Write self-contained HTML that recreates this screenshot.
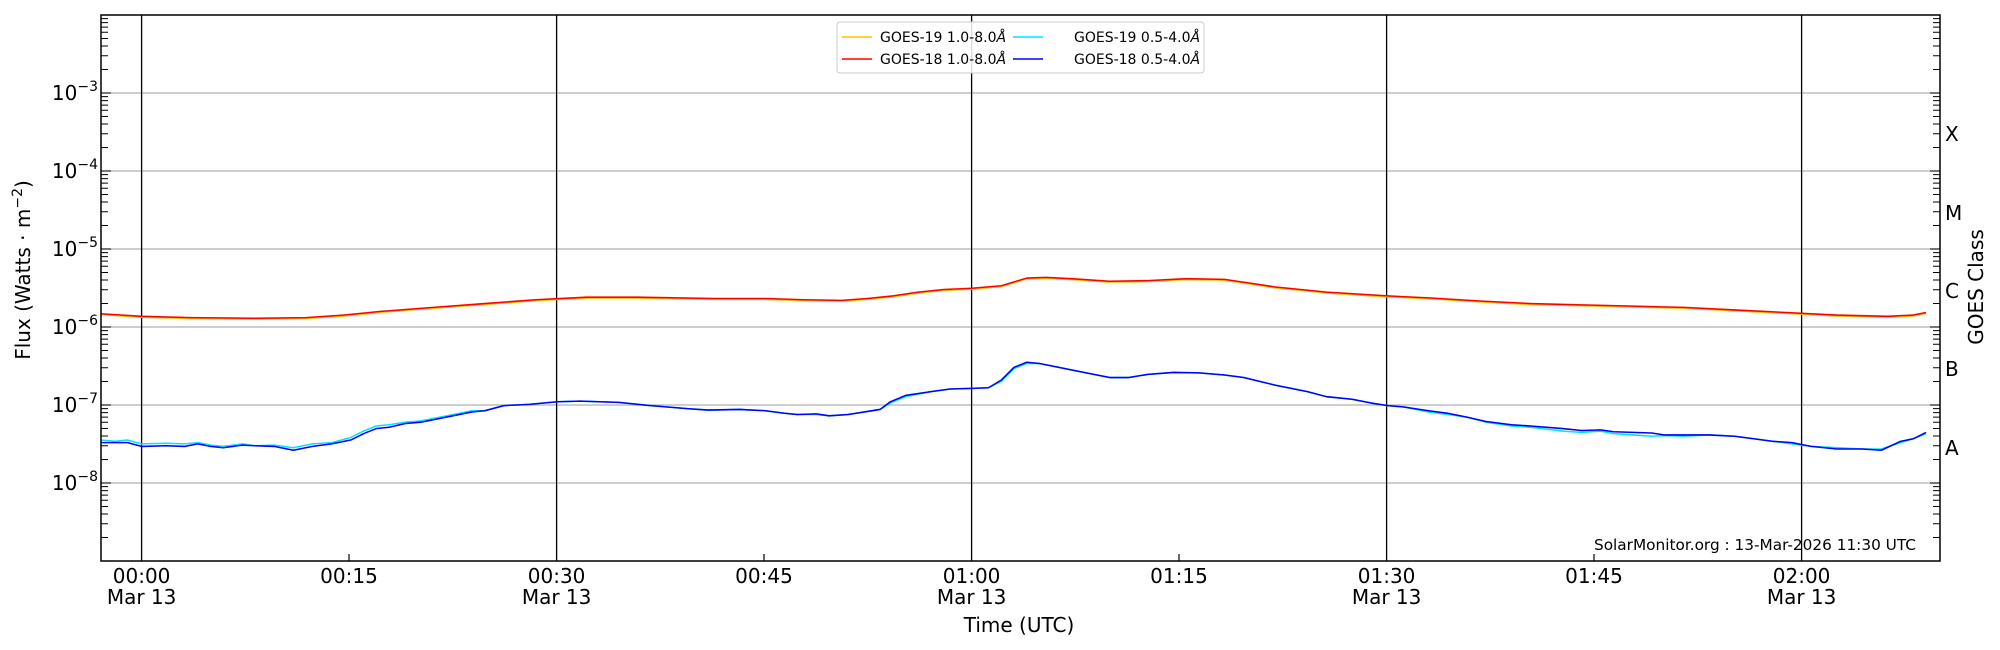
<!DOCTYPE html>
<html><head><meta charset="utf-8"><style>
html,body{margin:0;padding:0;background:#fff;}
svg{display:block;font-family:"DejaVu Sans","Liberation Sans",sans-serif;}
</style></head><body>
<svg width="2000" height="650" viewBox="0 0 2000 650" xmlns="http://www.w3.org/2000/svg">
<rect width="2000" height="650" fill="#fff"/>
<g stroke="#b0b0b0" stroke-width="1.2">
<line x1="101" x2="1940" y1="93" y2="93"/><line x1="101" x2="1940" y1="171" y2="171"/>
<line x1="101" x2="1940" y1="249" y2="249"/><line x1="101" x2="1940" y1="327" y2="327"/>
<line x1="101" x2="1940" y1="405" y2="405"/><line x1="101" x2="1940" y1="483" y2="483"/>
</g>
<g stroke="#000" stroke-width="1.3">
<line x1="141.6" x2="141.6" y1="15" y2="561"/><line x1="556.6" x2="556.6" y1="15" y2="561"/>
<line x1="971.6" x2="971.6" y1="15" y2="561"/><line x1="1386.6" x2="1386.6" y1="15" y2="561"/>
<line x1="1801.6" x2="1801.6" y1="15" y2="561"/>
</g>
<g transform="scale(1.2755)" fill="none" stroke-width="1.2" stroke-linejoin="round">
<polyline transform="translate(0,0.7)" stroke="#ffc000" points="79,246 111,248 150,249 200,249.5 240,249 270,247 300,244 340,241 380,238 420,235 460,233 500,233 560,234 600,234 630,235 660,235.5 680,234 700,232 720,229 740,227 762,226 785,224 805,218 820,217.5 840,218.5 870,220.5 900,220 930,218.5 960,219 980,222 1000,225 1040,229 1088,232 1120,233.5 1160,236 1200,238 1240,239 1280,240 1320,241 1360,243 1400,245 1440,247 1480,248 1500,247 1510,245"/>
<polyline stroke="#ff0000" points="79,246 111,248 150,249 200,249.5 240,249 270,247 300,244 340,241 380,238 420,235 460,233 500,233 560,234 600,234 630,235 660,235.5 680,234 700,232 720,229 740,227 762,226 785,224 805,218 820,217.5 840,218.5 870,220.5 900,220 930,218.5 960,219 980,222 1000,225 1040,229 1088,232 1120,233.5 1160,236 1200,238 1240,239 1280,240 1320,241 1360,243 1400,245 1440,247 1480,248 1500,247 1510,245"/>
<polyline stroke="#00e5ff" points="79,345 90,346 100,345 111,348 130,347.5 145,348 155,347 165,349 175,350 190,348 200,349.5 215,349 230,351 245,348 260,347 275,343 285,338 295,334 305,333 318,331 330,330 350,326 370,322 380,322 395,318 415,317 437,315 455,314.5 485,315.5 510,318 540,320.5 555,321.5 580,321 600,322 615,324 625,325 640,325 650,326 665,325 690,321 698,316 710,311 730,307 745,305 762,304.5 775,304 785,299 795,289 805,285 815,285 835,289 860,294 870,296 885,296 900,293.5 920,292 940,292.3 960,294 975,296 1000,302 1025,307 1040,311 1060,313 1075,316 1088,318 1100,319 1120,323 1135,325 1150,327 1165,331 1185,334 1200,335 1225,338 1240,339 1255,338 1265,340 1280,341 1295,342 1305,341.5 1320,342 1340,341 1360,342 1375,344 1390,346 1405,348 1420,350 1440,351 1460,352 1475,352 1490,347 1500,344 1510,340"/>
<polyline stroke="#0000ff" points="79,347 100,347 111,350 130,349.5 145,350 155,348 165,350 175,351 190,349 200,349.5 215,350 230,353 245,350 260,348 275,345 285,340 295,336 305,335 318,332 330,331 350,327 370,323 380,322 395,318 415,317 437,315 455,314.5 485,315.5 510,318 540,320.5 555,321.5 580,321 600,322 615,324 625,325 640,324.5 650,326 665,325 690,321 698,315 710,310 730,307 745,305 762,304.5 775,304 785,298 795,288 805,284 815,285 835,289 860,294 870,296 885,296 900,293.5 920,292 940,292.3 960,294 975,296 1000,302 1025,307 1040,311 1060,313 1075,316 1088,318 1100,319 1120,322 1135,324 1150,327 1165,330.5 1185,333 1200,334 1225,336 1240,337.5 1255,337 1265,338.5 1280,339 1295,339.5 1305,341 1320,341 1340,341 1360,342 1375,344 1390,346 1405,347 1420,350 1440,352 1460,352 1475,353 1490,346 1500,344 1510,339"/>
</g>
<rect x="101" y="15" width="1839" height="546" fill="none" stroke="#000" stroke-width="1.5"/>
<g stroke="#000" stroke-width="1" id="yt"></g>
<g stroke="#000" stroke-width="1.2">
<path d="M349,561v-7M764,561v-7M1179,561v-7M1594,561v-7"/>
</g>
<g font-size="20" fill="#000" text-anchor="end">
<text x="98" y="100">10<tspan font-size="14" dy="-9">−3</tspan></text>
<text x="98" y="178">10<tspan font-size="14" dy="-9">−4</tspan></text>
<text x="98" y="256">10<tspan font-size="14" dy="-9">−5</tspan></text>
<text x="98" y="334">10<tspan font-size="14" dy="-9">−6</tspan></text>
<text x="98" y="412">10<tspan font-size="14" dy="-9">−7</tspan></text>
<text x="98" y="490">10<tspan font-size="14" dy="-9">−8</tspan></text>
</g>
<g font-size="20" fill="#000">
<text x="1945" y="141">X</text><text x="1945" y="220">M</text><text x="1945" y="298">C</text>
<text x="1945" y="376">B</text><text x="1945" y="455">A</text>
</g>
<text font-size="20" transform="translate(1983,287) rotate(-90)" text-anchor="middle">GOES Class</text>
<text font-size="20" transform="translate(30,270) rotate(-90)" text-anchor="middle">Flux (Watts · m<tspan font-size="14" dy="-8">−2</tspan><tspan dy="8">)</tspan></text>
<g font-size="20" text-anchor="middle">
<text x="141.6" y="583">00:00</text><text x="141.6" y="604">Mar 13</text>
<text x="349" y="583">00:15</text>
<text x="556.6" y="583">00:30</text><text x="556.6" y="604">Mar 13</text>
<text x="764" y="583">00:45</text>
<text x="971.6" y="583">01:00</text><text x="971.6" y="604">Mar 13</text>
<text x="1179" y="583">01:15</text>
<text x="1386.6" y="583">01:30</text><text x="1386.6" y="604">Mar 13</text>
<text x="1594" y="583">01:45</text>
<text x="1801.6" y="583">02:00</text><text x="1801.6" y="604">Mar 13</text>
<text x="1019" y="632">Time (UTC)</text>
</g>
<text x="1916" y="550" font-size="15.3" text-anchor="end">SolarMonitor.org : 13-Mar-2026 11:30 UTC</text>
<rect x="837" y="22" width="367" height="51" rx="3" fill="#fff" fill-opacity="0.85" stroke="#ccc"/>
<g stroke-width="1.5">
<line x1="842" x2="872" y1="37" y2="37" stroke="#ffc000"/>
<line x1="842" x2="872" y1="59" y2="59" stroke="#ff0000"/>
<line x1="1013" x2="1043" y1="37" y2="37" stroke="#00e5ff"/>
<line x1="1013" x2="1043" y1="59" y2="59" stroke="#0000ff"/>
</g>
<g font-size="14">
<text x="880" y="42">GOES-19 1.0-8.0<tspan font-style="italic">Å</tspan></text>
<text x="880" y="64">GOES-18 1.0-8.0<tspan font-style="italic">Å</tspan></text>
<text x="1074" y="42">GOES-19 0.5-4.0<tspan font-style="italic">Å</tspan></text>
<text x="1074" y="64">GOES-18 0.5-4.0<tspan font-style="italic">Å</tspan></text>
</g>
<script>
(function(){var g=document.getElementById('yt'),d='';
for(var k=0;k<7;k++){var base=561-k*78;
for(var m=1;m<=9;m++){var y=base-Math.log10(m)*78;if(y<15)continue;var L=m==1?10:7;
d+='M101,'+y.toFixed(1)+'h'+L+'M1940,'+y.toFixed(1)+'h-'+L;}}
d+='M101,15h10M1940,15h-10';
var p=document.createElementNS('http://www.w3.org/2000/svg','path');p.setAttribute('d',d);g.appendChild(p);})();
</script>
</svg>
</body></html>
